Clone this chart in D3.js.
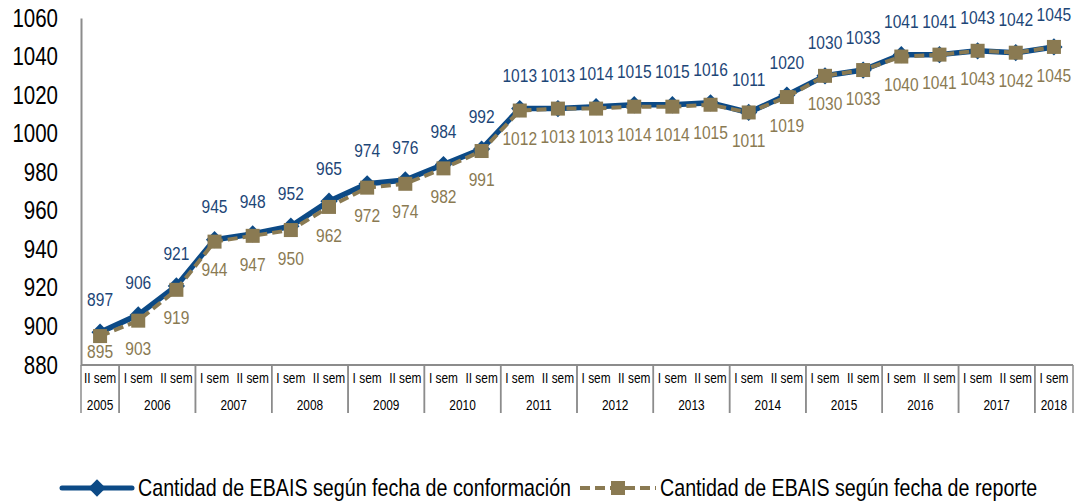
<!DOCTYPE html>
<html>
<head>
<meta charset="utf-8">
<script src="https://cdn.jsdelivr.net/npm/d3@7"></script>
<style>
  body { margin: 0; background: #fff; }
  svg { display: block; font-family: "Liberation Sans", Arial, sans-serif; }
</style>
</head>
<body>
<svg id="chart" width="1078" height="501"></svg>
<script>
// periodos (semestre + año)
const semestres = ["II sem",
  "I sem", "II sem", "I sem", "II sem", "I sem", "II sem", "I sem", "II sem",
  "I sem", "II sem", "I sem", "II sem", "I sem", "II sem", "I sem", "II sem",
  "I sem", "II sem", "I sem", "II sem", "I sem", "II sem", "I sem", "II sem",
  "I sem"];
const anios = ["2005",
  "2006", "2006", "2007", "2007", "2008", "2008", "2009", "2009",
  "2010", "2010", "2011", "2011", "2012", "2012", "2013", "2013",
  "2014", "2014", "2015", "2015", "2016", "2016", "2017", "2017",
  "2018"];

const conformacion = [897, 906, 921, 945, 948, 952, 965, 974, 976, 984, 992,
  1013, 1013, 1014, 1015, 1015, 1016, 1011, 1020, 1030, 1033, 1041, 1041, 1043, 1042, 1045];
const reporte = [895, 903, 919, 944, 947, 950, 962, 972, 974, 982, 991,
  1012, 1013, 1013, 1014, 1014, 1015, 1011, 1019, 1030, 1033, 1040, 1041, 1043, 1042, 1045];

const yTicks = [880, 900, 920, 940, 960, 980, 1000, 1020, 1040, 1060];

const nombreConf = "Cantidad de EBAIS según fecha de conformación";
const nombreRep = "Cantidad de EBAIS según fecha de reporte";

const azul = "#0c4a86";
const azulTexto = "#1d4677";
const cafe = "#8a7a52";
const gris = "#8c8c8c";
const angosto = 0.82; // Arial Narrow ~ Arial comprimido

const dims = { left: 81, right: 1073, top: 18, bottom: 365, tableBottom: 413 };

const svg = d3.select("#chart");
const idx = d3.range(semestres.length);

const x = d3.scaleBand().domain(idx).range([dims.left, dims.right]).padding(0);
const cx = (i) => x(i) + x.bandwidth() / 2;
const y = d3.scaleLinear().domain([880, 1060]).range([dims.bottom, dims.top]);

const at = (px, py) => `translate(${px},${py}) scale(${angosto},1)`;

// eje y
const gy = svg.append("g")
  .attr("transform", `translate(${dims.left},0)`)
  .call(d3.axisLeft(y).tickValues(yTicks).tickSize(0).tickFormat(d3.format("d")));
gy.attr("font-family", null);
gy.select(".domain").attr("stroke", gris).attr("stroke-width", 2);
gy.selectAll("text")
  .attr("x", -23 / angosto)
  .attr("transform", `scale(${angosto},1)`)
  .attr("font-size", 25)
  .attr("fill", "#000");

// tabla del eje x
const gx = svg.append("g")
  .attr("transform", `translate(0,${dims.bottom})`)
  .call(d3.axisBottom(x).tickSize(0).tickPadding(8).tickFormat((i) => semestres[i]));
gx.attr("font-family", null);
gx.select(".domain").remove();
gx.selectAll("text")
  .attr("transform", `scale(${angosto},1)`)
  .attr("font-size", 14.5)
  .attr("fill", "#000");

svg.append("line")
  .attr("x1", dims.left).attr("x2", dims.right)
  .attr("y1", dims.bottom).attr("y2", dims.bottom)
  .attr("stroke", gris).attr("stroke-width", 2);

const grupos = d3.groups(idx, (i) => anios[i]);
const gAnios = svg.append("g");
grupos.forEach(([anio, ids]) => {
  const x0 = x(ids[0]);
  const x1 = x(ids[ids.length - 1]) + x.bandwidth();
  gAnios.append("text")
    .attr("transform", at((x0 + x1) / 2, 405))
    .attr("dy", "0.35em")
    .attr("text-anchor", "middle")
    .attr("font-size", 14.5)
    .text(anio);
  [x0, x1].forEach((xx) => {
    gAnios.append("line")
      .attr("x1", xx).attr("x2", xx)
      .attr("y1", dims.bottom).attr("y2", dims.tableBottom)
      .attr("stroke", gris).attr("stroke-width", 1.5);
  });
});

// series
const linea = (vals) => d3.line().x((d, i) => cx(i)).y((d) => y(d))(vals);

svg.append("path")
  .attr("d", linea(conformacion))
  .attr("fill", "none")
  .attr("stroke", azul)
  .attr("stroke-width", 5.5)
  .attr("stroke-linejoin", "round");

const diamante = d3.symbol().type(d3.symbolDiamond2).size(190);
svg.append("g").selectAll("path")
  .data(conformacion)
  .join("path")
  .attr("d", diamante)
  .attr("transform", (d, i) => `translate(${cx(i)},${y(d)})`)
  .attr("fill", azul);

svg.append("path")
  .attr("d", linea(reporte))
  .attr("fill", "none")
  .attr("stroke", cafe)
  .attr("stroke-width", 4)
  .attr("stroke-dasharray", "10,5");

svg.append("g").selectAll("rect")
  .data(reporte)
  .join("rect")
  .attr("x", (d, i) => cx(i) - 7)
  .attr("y", (d) => y(d) - 7)
  .attr("width", 14)
  .attr("height", 14)
  .attr("fill", cafe);

// etiquetas
svg.append("g").selectAll("text")
  .data(conformacion)
  .join("text")
  .attr("transform", (d, i) => at(cx(i), y(d) - 33))
  .attr("dy", "0.35em")
  .attr("text-anchor", "middle")
  .attr("font-size", 19)
  .attr("fill", azulTexto)
  .text((d) => d);

svg.append("g").selectAll("text")
  .data(reporte)
  .join("text")
  .attr("transform", (d, i) => at(cx(i), Math.min(y(d) + 28, dims.bottom - 14)))
  .attr("dy", "0.35em")
  .attr("text-anchor", "middle")
  .attr("font-size", 19)
  .attr("fill", cafe)
  .text((d) => d);

// leyenda
const ly = 488;
const leg = svg.append("g");
leg.append("line")
  .attr("x1", 62).attr("x2", 132).attr("y1", ly).attr("y2", ly)
  .attr("stroke", azul).attr("stroke-width", 5).attr("stroke-linecap", "round");
leg.append("path")
  .attr("d", diamante)
  .attr("transform", `translate(97,${ly})`)
  .attr("fill", azul);
leg.append("text")
  .attr("transform", at(138, ly))
  .attr("dy", "0.35em")
  .attr("font-size", 24)
  .text(nombreConf);

leg.append("line")
  .attr("x1", 580).attr("x2", 656).attr("y1", ly).attr("y2", ly)
  .attr("stroke", cafe).attr("stroke-width", 4).attr("stroke-dasharray", "10,5");
leg.append("rect")
  .attr("x", 611).attr("y", ly - 7).attr("width", 14).attr("height", 14)
  .attr("fill", cafe);
leg.append("text")
  .attr("transform", at(660, ly))
  .attr("dy", "0.35em")
  .attr("font-size", 24)
  .text(nombreRep);
</script>
</body>
</html>
